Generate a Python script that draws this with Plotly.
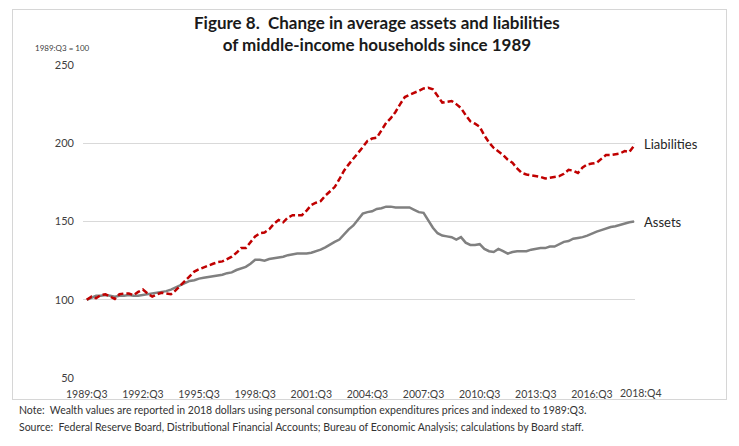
import plotly.graph_objects as go

quarter_index = list(range(118))
tick_positions = [0, 12, 24, 36, 48, 60, 72, 84, 96, 108]
tick_labels = ["1989:Q3", "1992:Q3", "1995:Q3", "1998:Q3", "2001:Q3", "2004:Q3",
               "2007:Q3", "2010:Q3", "2013:Q3", "2016:Q3"]
last_tick_position = 117
last_tick_label = "2018:Q4"

liabilities = [
    100, 102, 101, 103, 103.5, 102, 100.5, 103.5, 104, 104,
    103, 105, 106.5, 104, 102, 103.5, 104.5, 104, 103.5, 106,
    109, 112, 115.5, 118, 119.5, 120.5, 122, 123, 124, 124.5,
    126, 127.5, 130, 133, 133, 136.5, 140.5, 142.5, 143, 145,
    148.5, 151, 149.5, 152.5, 154, 154, 154, 157, 160.5, 162,
    163, 166.5, 169.5, 172, 177, 182.5, 186.5, 190, 193.5, 197.5,
    201.5, 203, 203.5, 208.5, 213, 216, 220, 225, 229.5, 231,
    232, 233.5, 235, 235.5, 234.5, 230, 226, 226.5, 227, 225,
    222.5, 218, 214, 212.5, 210.5, 205, 200.5, 197, 195, 192.5,
    189.5, 187.5, 184, 181, 180, 179.5, 179, 178.5, 177.5, 178,
    178.5, 179, 180.5, 183, 182.5, 181, 184.5, 186.5, 187, 187.5,
    190, 192.5, 192.5, 193, 193.5, 195, 194.5, 198.5,
]

assets = [
    100, 101.5, 102.5, 102.5, 103, 102.5, 102, 102.5, 102.5, 103,
    102.5, 102.5, 103, 103.5, 104, 104.5, 105, 105.5, 106.5, 108,
    109.5, 110.5, 112, 112.5, 113.5, 114, 114.5, 115, 115.5, 116,
    117, 117.5, 119, 120, 121, 123, 125.5, 125.5, 125, 126,
    126.5, 127, 127.5, 128.5, 129, 129.5, 129.5, 129.5, 130, 131,
    132, 133.5, 135.5, 137, 138.5, 142, 145, 147.5, 151.5, 155,
    156, 156.5, 158, 158.5, 159.5, 159.5, 159, 159, 159, 159,
    157.5, 156, 155.5, 150.5, 146, 142.5, 141, 140.5, 140, 138.5,
    140, 136.5, 135, 135, 135.5, 132.5, 131, 130.5, 132.5, 131,
    129.5, 130.5, 131, 131, 131, 132, 132.5, 133, 133, 134,
    134, 135.5, 137, 137.5, 139, 139.5, 140, 141, 142.5, 143.5,
    144.5, 145.5, 146.5, 147, 148, 149, 149.5, 150,
]

y_ticks = [50, 100, 150, 200, 250]

FONT = "Lato"

fig = go.Figure()
fig.add_trace(go.Scatter(
    x=quarter_index, y=assets, mode="lines", name="Assets",
    line=dict(color="#808080", width=2.5),
))
fig.add_trace(go.Scatter(
    x=quarter_index, y=liabilities, mode="lines", name="Liabilities",
    line=dict(color="#C00000", width=2.5, dash="6px,3px"),
))

fig.update_layout(
    width=739, height=446,
    margin=dict(l=83, r=104, t=65, b=68, autoexpand=False),
    paper_bgcolor="white", plot_bgcolor="white",
    showlegend=False,
    font=dict(family=FONT, color="#404040"),
    xaxis=dict(
        range=[-0.8, 117.2], tickmode="array", tickvals=tick_positions,
        ticktext=tick_labels, showgrid=False, zeroline=False, showline=False,
        ticks="", tickangle=0, automargin=False, ticklabelstandoff=8,
        tickfont=dict(size=10.5, color="#404040"),
    ),
    yaxis=dict(
        range=[50, 250], tickmode="array", tickvals=y_ticks,
        showgrid=True, gridcolor="#D9D9D9", gridwidth=1, zeroline=False,
        showline=False, ticks="", automargin=False,
        tickfont=dict(size=11, color="#404040"),
        ticklabelstandoff=8,
    ),
    annotations=[
        # light frame around the chart block
        dict(text=" ", xref="paper", yref="paper",
             x=(12 - 83) / 552, y=(378 - 9) / 313, xanchor="left", yanchor="top",
             width=713, height=389, borderpad=0, borderwidth=1,
             bordercolor="#D6D6D6", bgcolor="rgba(0,0,0,0)", showarrow=False),
        dict(text="<b>Figure 8.  Change in average assets and liabilities<br>of middle-income households since 1989</b>",
             xref="paper", yref="paper", x=(377 - 83) / 552, y=(378 - 34) / 313,
             xanchor="center", yanchor="middle", showarrow=False,
             font=dict(size=17, color="#1a1a1a", family=FONT), align="center"),
        dict(text="1989:Q3 = 100", xref="paper", yref="paper",
             x=(33 - 83) / 552, y=(378 - 48) / 313, xanchor="left", yanchor="middle",
             showarrow=False, font=dict(size=8, color="#404040", family=FONT)),
        dict(text=last_tick_label, x=last_tick_position, xref="x",
             y=(378 - 393) / 313, yref="paper", xanchor="center", yanchor="middle",
             xshift=6, showarrow=False,
             font=dict(size=10.5, color="#404040", family=FONT)),
        dict(text="Liabilities", x=117, y=199.5, xref="x", yref="y",
             xanchor="left", yanchor="middle", xshift=8, showarrow=False,
             font=dict(size=13, color="#262626", family=FONT)),
        dict(text="Assets", x=117, y=150, xref="x", yref="y",
             xanchor="left", yanchor="middle", xshift=8, showarrow=False,
             font=dict(size=13, color="#262626", family=FONT)),
        dict(text="Note:  Wealth values are reported in 2018 dollars using personal consumption expenditures prices and indexed to 1989:Q3.",
             xref="paper", yref="paper", x=(17 - 83) / 552, y=(378 - 410) / 313,
             xanchor="left", yanchor="middle", showarrow=False,
             font=dict(size=10.5, color="#333333", family=FONT)),
        dict(text="Source:  Federal Reserve Board, Distributional Financial Accounts; Bureau of Economic Analysis; calculations by Board staff.",
             xref="paper", yref="paper", x=(17 - 83) / 552, y=(378 - 427) / 313,
             xanchor="left", yanchor="middle", showarrow=False,
             font=dict(size=10.5, color="#333333", family=FONT)),
    ],
)

fig.write_html("out.html", config={"displayModeBar": False},
               post_script="document.body.style.margin='0';")
